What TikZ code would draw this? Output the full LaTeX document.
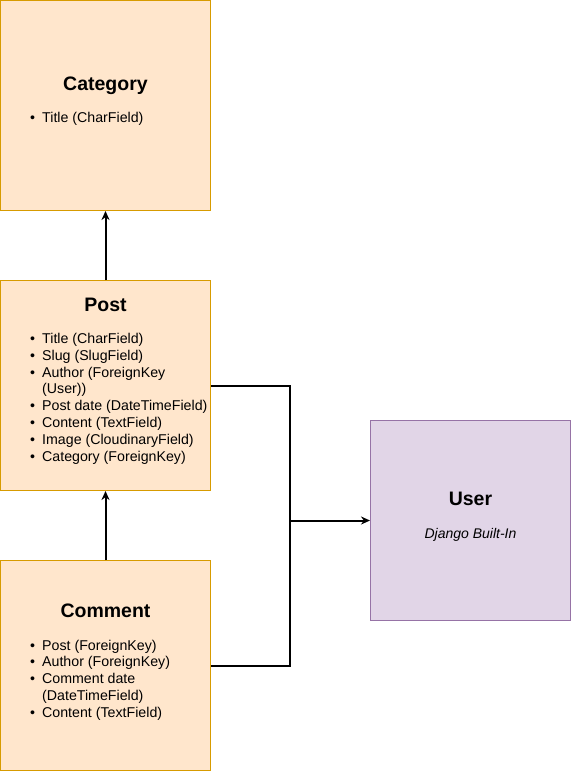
\documentclass[tikz,border=0pt]{standalone}
\usepackage{fontspec}
\setmainfont{Liberation Sans}
\usetikzlibrary{arrows.meta}

\definecolor{entityfill}{RGB}{255, 230, 204}
\definecolor{entityline}{RGB}{215, 155, 0}
\definecolor{userfill}{RGB}{225, 213, 231}
\definecolor{userline}{RGB}{150, 115, 166}

\newcommand{\fitem}{\makebox[12pt][l]{\textbullet}}
\newcommand{\fwrap}{\hspace*{12pt}}

\begin{document}
\begin{tikzpicture}[x=1pt, y=-1pt,
    entity/.style={draw=entityline, fill=entityfill, line width=1pt, minimum width=210pt, minimum height=210pt, inner sep=0pt},
    builtin/.style={draw=userline, fill=userfill, line width=1pt, minimum width=200pt, minimum height=200pt, inner sep=0pt},
    title/.style={anchor=base, inner sep=0pt, font=\fontsize{19.5}{23}\selectfont\bfseries},
    fields/.style={anchor=base west, inner sep=0pt, align=left, font=\fontsize{14.2}{16.8}\selectfont},
    link/.style={line width=2pt, -{Stealth[length=9pt, width=8pt]}}]
    \useasboundingbox (0,0) rectangle (571,771);

    % Boxes
    \node[entity] (category) at (105.5,105.5) {};
    \node[entity] (post) at (105.5,385.5) {};
    \node[entity] (comment) at (105.5,665.5) {};
    \node[builtin] (user) at (470.5,520.5) {};

    % Category
    \node[title] (cattitle) at (105.5,90) {Category};
    \node[fields] (catfields) at (30,122.5) {\fitem Title (CharField)};

    % Post (base = last line)
    \node[title] (posttitle) at (105.5,311) {Post};
    \node[fields] (postfields) at (30,461.1) {\fitem Title (CharField)\\
        \fitem Slug (SlugField)\\
        \fitem Author (ForeignKey\\
        \fwrap (User))\\
        \fitem Post date (DateTimeField)\\
        \fitem Content (TextField)\\
        \fitem Image (CloudinaryField)\\
        \fitem Category (ForeignKey)};

    % Comment (base = last line)
    \node[title] (commtitle) at (105.5,617) {Comment};
    \node[fields] (commfields) at (30,717.2) {\fitem Post (ForeignKey)\\
        \fitem Author (ForeignKey)\\
        \fitem Comment date\\
        \fwrap (DateTimeField)\\
        \fitem Content (TextField)};

    % User
    \node[title] (usertitle) at (470.5,505) {User};
    \node[anchor=base, inner sep=0pt, font=\fontsize{14}{16.8}\selectfont\itshape] (usernote) at (470.5,538) {Django Built-In};

    % Connectors
    \coordinate (joint) at (290,520.5);
    \draw[link] (post) -- (category);
    \draw[link] (comment) -- (post);
    \draw[line width=2pt] (post.east) -| (joint);
    \draw[line width=2pt] (comment.east) -| (joint);
    \draw[link] (joint) -- (user.west);
\end{tikzpicture}
\end{document}
